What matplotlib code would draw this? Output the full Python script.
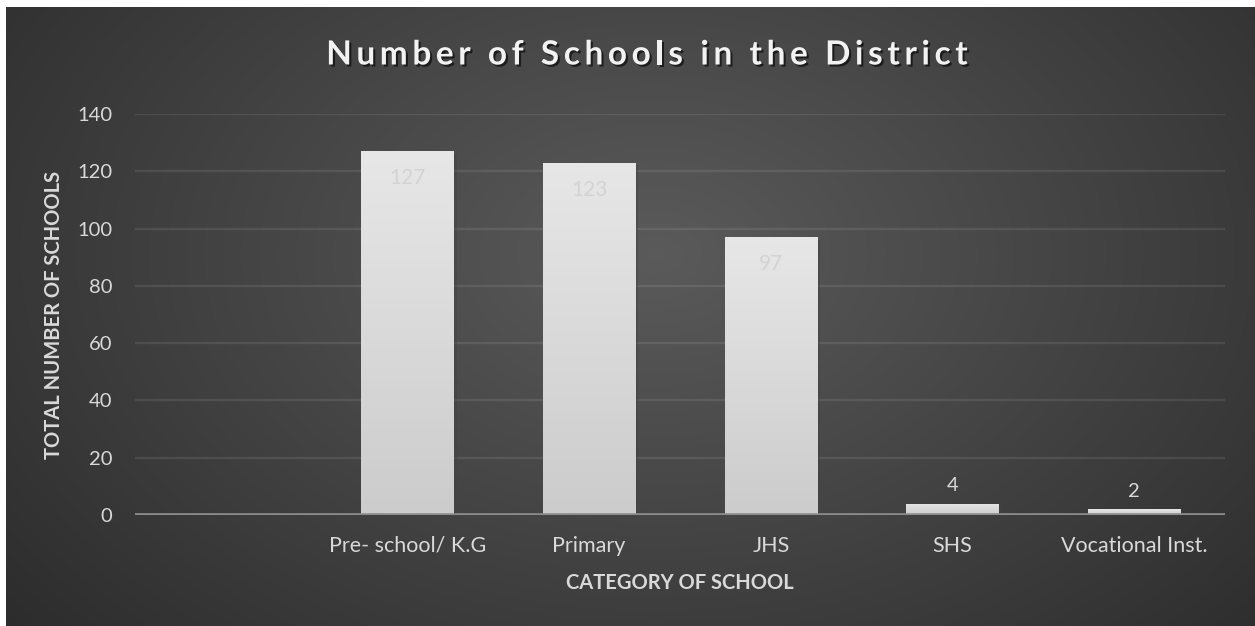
import numpy as np
import matplotlib.pyplot as plt
from matplotlib import patheffects as pe

plt.rcParams["font.family"] = ["Lato", "DejaVu Sans"]

# data (first category is empty in the source)
categories = ["", "Pre- school/ K.G", "Primary", "JHS", "SHS", "Vocational Inst."]
schools = [None, 127, 123, 97, 4, 2]
y_ticks = [0, 20, 40, 60, 80, 100, 120, 140]
title = "Number of Schools in the District"

TEXT = "#d9d9d9"
W, H = 1255, 626

fig = plt.figure(figsize=(W / 100, H / 100), dpi=100, facecolor="white")

# dark radial-gradient backdrop (leaves the thin white strip on top/left)
bg = fig.add_axes([6 / W, 0, 1 - 6 / W, 619 / H], zorder=-1)
yy, xx = np.mgrid[0:1:300j, 0:1:600j]
r = np.sqrt(((xx - 0.52) / 0.62) ** 2 + ((yy - 0.6) / 0.85) ** 2)
shade = np.clip(0.355 - 0.165 * r, 0.13, 0.36)
bg.imshow(np.dstack([shade] * 3), extent=[0, 1, 0, 1], aspect="auto", origin="lower")
bg.set_axis_off()

ax = fig.add_axes([135 / W, 111 / H, 1090 / W, 401 / H])
ax.patch.set_alpha(0)

x = np.arange(len(categories))
width = 0.51

grad = np.linspace(0.80, 0.905, 64).reshape(-1, 1)
for xi, v in zip(x, schools):
    if v is None:
        continue
    bar = ax.bar(xi, v, width=width, color="#dedede", zorder=3,
                 path_effects=[pe.SimplePatchShadow(offset=(2, -2), alpha=0.45), pe.Normal()])[0]
    im = ax.imshow(np.dstack([grad] * 3), extent=[xi - width / 2, xi + width / 2, 0, v],
                   aspect="auto", origin="lower", zorder=4)
    im.set_clip_path(bar)
    if v > 20:
        ax.text(xi, v - 9.5, str(v), ha="center", va="center", fontsize=15,
                color="#d3d3d3", zorder=5)
    else:
        ax.annotate(str(v), (xi, v), xytext=(0, 7), textcoords="offset points",
                    ha="center", va="bottom", fontsize=14.5, color=TEXT, zorder=5)

ax.set_xlim(-0.5, len(categories) - 0.5)
ax.set_ylim(0, 140)
ax.set_yticks(y_ticks)
ax.set_xticks(x)
ax.set_xticklabels(categories, fontsize=15.5)
ax.tick_params(axis="both", length=0, labelcolor=TEXT)
ax.tick_params(axis="y", pad=16.5, labelsize=14.5)
ax.tick_params(axis="x", pad=15)
for s in ax.spines.values():
    s.set_visible(False)
ax.grid(axis="y", color="#ffffff", alpha=0.09, lw=1.6, zorder=1)
ax.axhline(0, color="#8c8c8c", lw=2.6, zorder=6)

ax.set_ylabel("TOTAL NUMBER OF SCHOOLS", fontsize=14.5, fontweight="bold", color=TEXT)
ax.yaxis.set_label_coords((54 - 135) / 1090, 0.5)
ax.set_xlabel("CATEGORY OF SCHOOL", fontsize=14.5, fontweight="bold", color=TEXT)
ax.xaxis.set_label_coords((680 - 135) / 1090, -(583 - 515) / 401)
ax.xaxis.label.set_va("center")
ax.yaxis.label.set_va("center")

# title with wide letter spacing, placed glyph by glyph
renderer = fig.canvas.get_renderer()
tkw = dict(fontsize=24, fontweight="bold", color="#f2f2f2",
           path_effects=[pe.withSimplePatchShadow(offset=(1.5, -1.5),
                                                  shadow_rgbFace="black", alpha=0.6)])
def glyph_w(s):
    t = fig.text(0, 0, s, **tkw)
    w = t.get_window_extent(renderer).width
    t.remove()
    return w
space_w = glyph_w("x x") - glyph_w("xx")
widths = [space_w if c == " " else glyph_w(c) for c in title]
track = 4.6
total = sum(widths) + track * (len(title) - 1)
cx = 647 - total / 2
for c, w in zip(title, widths):
    if c != " ":
        fig.text(cx / W, 1 - 55 / H, c, ha="left", va="center", **tkw)
    cx += w + track

fig.savefig("out.png", dpi=100, facecolor="white")
